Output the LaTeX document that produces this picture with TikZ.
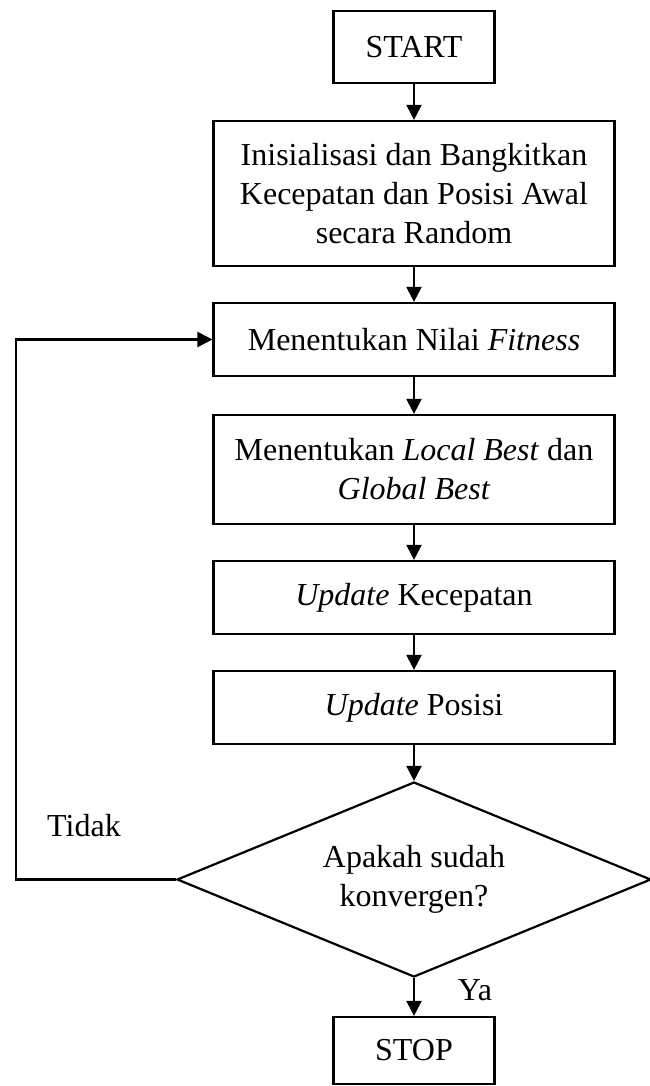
\documentclass[tikz,border=0pt]{standalone}
\usepackage{fontspec}
\setmainfont{Liberation Serif}
\usetikzlibrary{shapes.geometric,arrows.meta}
\begin{document}
\begin{tikzpicture}[x=0.5pt,y=-0.5pt,
  every node/.style={font=\fontsize{16}{19.5}\selectfont, inner sep=2pt},
  box/.style={draw, line width=1.1pt, rectangle, align=center, minimum width=200.5pt},
  smallbox/.style={draw, line width=1.1pt, rectangle, align=center, minimum width=80.5pt},
  arr/.style={line width=1.1pt, -{Triangle[length=7.5pt,width=7.5pt]}},
  decision/.style={draw, line width=1.1pt, diamond, aspect=2.43, align=center, minimum width=237pt, minimum height=97.5pt, inner sep=0pt}]
\useasboundingbox (0,0) rectangle (649,1086);
\node[smallbox, minimum height=36pt] (start) at (414,47) {START};
\node[box, minimum height=72.5pt] (init) at (414,193.5) {Inisialisasi dan Bangkitkan\\Kecepatan dan Posisi Awal\\secara Random};
\node[box, minimum height=36.5pt] (fit) at (414,339.5) {Menentukan Nilai \textit{Fitness}};
\node[box, minimum height=54.5pt] (best) at (414,469.5) {Menentukan \textit{Local Best} dan\\\textit{Global Best}};
\node[box, minimum height=36.5pt] (vel) at (414,597.5) {\textit{Update} Kecepatan};
\node[box, minimum height=36.5pt] (pos) at (414,707.5) {\textit{Update} Posisi};
\node[decision] (dia) at (414,879.5) {Apakah sudah\\konvergen?};
\node[smallbox, minimum height=33.5pt] (stop) at (414,1050.5) {STOP};
\node (tidak) at (84,826) {Tidak};
\node (ya) at (475,990) {Ya};
\coordinate (lc) at (16,879.5);
\draw[arr] (start) -- (init);
\draw[arr] (init) -- (fit);
\draw[arr] (fit) -- (best);
\draw[arr] (best) -- (vel);
\draw[arr] (vel) -- (pos);
\draw[arr] (pos) -- (dia);
\draw[arr] (dia) -- (stop);
\draw[arr] (dia.west) -- (lc) |- (fit.west);
\end{tikzpicture}
\end{document}
